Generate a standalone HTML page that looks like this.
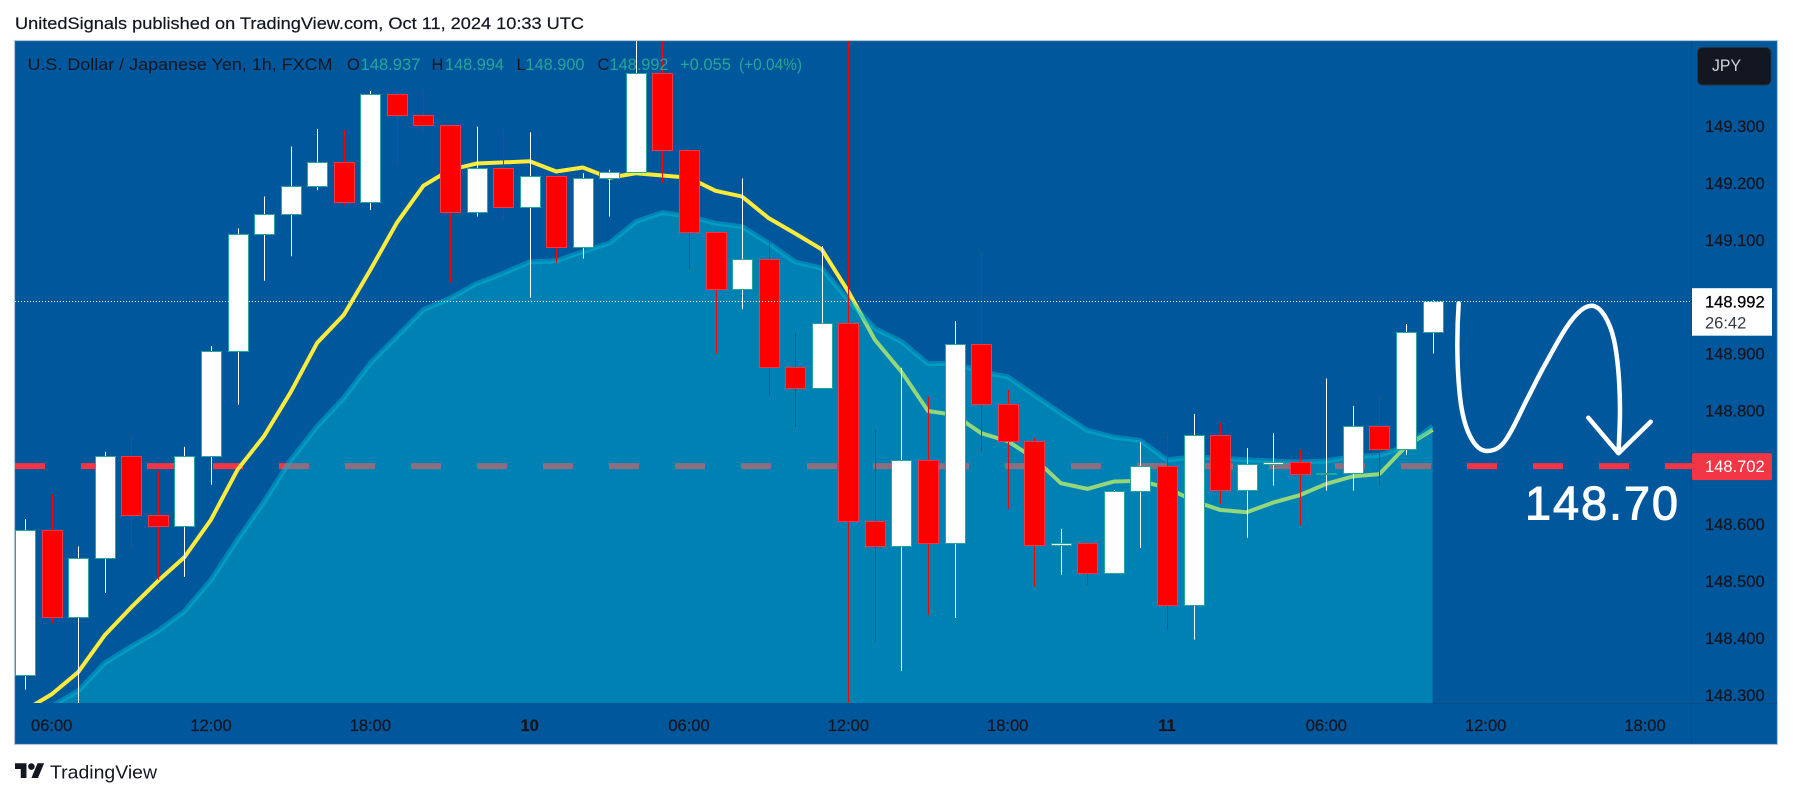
<!DOCTYPE html>
<html lang="en">
<head>
<meta charset="utf-8">
<title>USD/JPY 1h candlestick chart</title>
<style>
html,body{margin:0;padding:0;background:#fff;width:1793px;height:798px;overflow:hidden}
svg{display:block;font-family:"Liberation Sans",Arial,sans-serif}
</style>
</head>
<body>
<svg id="chart" width="1793" height="798" viewBox="0 0 1793 798">
  <defs>
    <clipPath id="plot-clip"><rect x="15" y="41" width="1677" height="662"/></clipPath>
  </defs>
  <text x="15" y="29" font-size="16.5" fill="#131722" stroke="#131722" stroke-width=".2" textLength="569" lengthAdjust="spacingAndGlyphs">UnitedSignals published on TradingView.com, Oct 11, 2024 10:33 UTC</text>
  <rect x="14.5" y="40.5" width="1763" height="704" fill="#01579b" stroke="#b4c6da" stroke-width="1.2"/>
  <line x1="1691.5" y1="41" x2="1691.5" y2="744" stroke="#0a4f8c"/>
  <line x1="1433" y1="703.5" x2="1777" y2="703.5" stroke="#0a4f8c"/>
  <g id="plot" clip-path="url(#plot-clip)"></g>
  <g id="price-axis"></g>
  <g id="time-axis"></g>

  <g font-size="16.5">
    <text x="27.5" y="70" fill="#131722" textLength="305" lengthAdjust="spacingAndGlyphs">U.S. Dollar / Japanese Yen, 1h, FXCM</text>
    <text x="347" y="70" fill="#131722">O</text>
    <text x="360.5" y="70" fill="#26a69a" textLength="60" lengthAdjust="spacingAndGlyphs">148.937</text>
    <text x="431.5" y="70" fill="#131722">H</text>
    <text x="445" y="70" fill="#26a69a" textLength="59" lengthAdjust="spacingAndGlyphs">148.994</text>
    <text x="516.5" y="70" fill="#131722">L</text>
    <text x="525.5" y="70" fill="#26a69a" textLength="59" lengthAdjust="spacingAndGlyphs">148.900</text>
    <text x="597.5" y="70" fill="#131722">C</text>
    <text x="609.5" y="70" fill="#26a69a" textLength="59" lengthAdjust="spacingAndGlyphs">148.992</text>
    <text x="680" y="70" fill="#26a69a" textLength="51" lengthAdjust="spacingAndGlyphs">+0.055</text>
    <text x="739" y="70" fill="#26a69a" textLength="63" lengthAdjust="spacingAndGlyphs">(+0.04%)</text>
  </g>

  <g>
    <rect x="1697.5" y="47.5" width="73.5" height="37.5" rx="5" fill="#131722" stroke="#2a3340"/>
    <text x="1712" y="71" font-size="16.5" fill="#d1d4dc" textLength="29" lengthAdjust="spacingAndGlyphs">JPY</text>
  </g>

  <g>
    <path d="M1458.7 303.3 C1456.5 335 1457 370 1460 396.7 C1462 415 1466 428 1470 436 C1475 446 1481 451 1487 451 C1494 451 1500 448 1505 441 C1513 430 1520 413 1526.7 400 C1533 388 1540 373 1546.7 361.7 C1553 350 1560 337 1566.7 327 C1574 316 1583 305.7 1591.7 305.7 C1601 305.7 1610 322 1614 340 C1619 363 1620 395 1620 410 C1620 425 1619 440 1618.5 453" fill="none" stroke="#fff" stroke-width="4.5" stroke-linecap="round"/>
    <path d="M1588.3 417.7 L1618.5 453.3 L1650.7 421.7" fill="none" stroke="#fff" stroke-width="4.5" stroke-linecap="round" stroke-linejoin="round"/>
    <text x="1525" y="519.5" font-size="47" fill="#fff" stroke="#fff" stroke-width="1" textLength="153" lengthAdjust="spacing">148.70</text>
  </g>

  <g>
    <g transform="translate(15 760) scale(.82)" fill="#131722">
      <path d="M14 22H7V11H0V4h14v18zM28 22h-8l7.5-18h8L28 22z"/>
      <circle cx="20" cy="8" r="4"/>
    </g>
    <text x="50" y="778.5" font-size="18.5" fill="#131722" textLength="107" lengthAdjust="spacingAndGlyphs">TradingView</text>
  </g>
</svg>

<script>
// Chart data, one entry per hourly bar, starting at the 05:00 bar on the 9th
const opens = [148.335,148.590,148.437,148.540,148.719,148.616,148.596,148.719,148.904,149.111,149.145,149.194,149.236,149.166,149.357,149.319,149.301,149.148,149.227,149.158,149.212,149.088,149.209,149.219,149.394,149.257,149.113,149.013,149.067,148.877,148.839,148.953,148.605,148.561,148.712,148.566,148.916,148.811,148.747,148.563,148.566,148.515,148.658,148.702,148.458,148.756,148.660,148.706,148.709,148.689,148.690,148.772,148.733,148.937];
const highs = [148.609,148.652,148.561,148.727,148.753,148.693,148.736,148.913,149.120,149.176,149.264,149.295,149.293,149.362,149.360,149.356,149.302,149.299,149.294,149.289,149.213,149.217,149.223,149.460,149.460,149.258,149.114,149.208,149.098,148.936,149.089,149.460,148.766,148.875,148.824,148.957,149.079,148.836,148.752,148.592,148.567,148.660,148.744,148.758,148.794,148.778,148.734,148.760,148.731,148.856,148.808,148.824,148.952,148.994];
const lows = [148.309,148.426,148.282,148.479,148.560,148.502,148.507,148.669,148.810,149.028,149.071,149.187,149.161,149.152,149.231,149.292,149.025,149.141,149.137,148.998,149.059,149.067,149.141,149.218,149.200,149.047,148.900,148.978,148.825,148.771,148.838,148.280,148.393,148.342,148.440,148.435,148.728,148.627,148.490,148.511,148.492,148.513,148.558,148.413,148.397,148.636,148.576,148.668,148.598,148.659,148.659,148.667,148.722,148.900];
const closes = [148.590,148.437,148.540,148.719,148.616,148.596,148.719,148.904,149.111,149.145,149.194,149.236,149.166,149.357,149.319,149.301,149.148,149.227,149.158,149.212,149.088,149.209,149.219,149.394,149.257,149.113,149.013,149.067,148.877,148.839,148.953,148.605,148.561,148.712,148.566,148.916,148.811,148.747,148.563,148.566,148.515,148.658,148.702,148.458,148.756,148.660,148.706,148.709,148.689,148.690,148.772,148.733,148.937,148.992];
const fastAverage = [148.273,148.301,148.340,148.405,148.454,148.500,148.542,148.608,148.696,148.755,148.832,148.919,148.968,149.047,149.130,149.195,149.223,149.234,149.236,149.238,149.220,149.227,149.209,149.217,149.213,149.209,149.186,149.176,149.138,149.111,149.083,149.009,148.924,148.868,148.799,148.792,148.760,148.746,148.716,148.672,148.662,148.675,148.676,148.664,148.641,148.625,148.621,148.638,148.651,148.671,148.684,148.688,148.737,148.766];
const slowAverage = [148.250,148.280,148.307,148.356,148.385,148.412,148.447,148.502,148.573,148.640,148.713,148.772,148.822,148.883,148.930,148.977,148.997,149.023,149.041,149.061,149.063,149.079,149.094,149.132,149.148,149.141,149.129,149.123,149.094,149.061,149.050,148.994,148.944,148.921,148.882,148.883,148.868,148.859,148.827,148.795,148.765,148.753,148.747,148.713,148.718,148.716,148.713,148.711,148.709,148.711,148.719,148.721,148.737,148.772];
const priceTicks = [149.3,149.2,149.1,148.9,148.8,148.6,148.5,148.4,148.3];
const timeLabels = ['06:00','12:00','18:00','10','06:00','12:00','18:00','11','06:00','12:00','18:00'];
const timeLabelBars = [1,7,13,19,25,31,37,43,49,55,61];
const lastPrice = 148.992;
const targetPrice = 148.702;
const countdown = '26:42';

const NS = 'http://www.w3.org/2000/svg';
const priceToY = p => 126 + (149.3 - p) * 568.8;
const barToX = i => 25.15 + 26.555 * i;
const plot = document.getElementById('plot');
const priceAxis = document.getElementById('price-axis');
const timeAxis = document.getElementById('time-axis');

function make(tag, parent) {
  const el = document.createElementNS(NS, tag);
  parent.appendChild(el);
  return el;
}
function linePath(values) {
  return values.map((v, i) => (i ? 'L' : 'M') + barToX(i).toFixed(2) + ' ' + priceToY(v).toFixed(2)).join(' ');
}

// Target level, dashed
const targetLine = make('line', plot);


targetLine.setAttribute('x1', 15);
targetLine.setAttribute('x2', 1692);
targetLine.setAttribute('y1', priceToY(targetPrice));
targetLine.setAttribute('y2', priceToY(targetPrice));
targetLine.setAttribute('stroke', '#f23645');
targetLine.setAttribute('stroke-width', 6);
targetLine.setAttribute('stroke-dasharray', '30 36');

// Fast moving average
const fastLine = make('path', plot);


fastLine.setAttribute('d', linePath(fastAverage));
fastLine.setAttribute('fill', 'none');
fastLine.setAttribute('stroke', '#ffeb3b');
fastLine.setAttribute('stroke-width', 4);
fastLine.setAttribute('stroke-linejoin', 'round');

// Slow moving average area
const lastBar = slowAverage.length - 1;
const slowArea = make('path', plot);


slowArea.setAttribute('d', linePath(slowAverage) + ' L' + barToX(lastBar).toFixed(2) + ' 703 L' + barToX(0).toFixed(2) + ' 703 Z');
slowArea.setAttribute('fill', '#00bcd4');
slowArea.setAttribute('fill-opacity', 0.42);

const slowLine = make('path', plot);


slowLine.setAttribute('d', linePath(slowAverage));
slowLine.setAttribute('fill', 'none');
slowLine.setAttribute('stroke', '#00bcd4');
slowLine.setAttribute('stroke-opacity', 0.45);
slowLine.setAttribute('stroke-width', 5);
slowLine.setAttribute('stroke-linejoin', 'round');

// Candles
closes.forEach((close, i) => {
  const up = close >= opens[i];
  const cx = barToX(i);
  const group = make('g', plot);
  
  

  const wick = make('line', group);
  
  
  const wx = Math.round(cx) + 0.5;
  wick.setAttribute('x1', wx);
  wick.setAttribute('x2', wx);
  wick.setAttribute('y1', priceToY(highs[i]));
  wick.setAttribute('y2', priceToY(lows[i]));
  wick.setAttribute('stroke', up ? '#ffffff' : '#ff0000');
  wick.setAttribute('stroke-width', 1);

  const yTop = Math.round(priceToY(Math.max(opens[i], close))) + 0.5;
  const yBottom = Math.round(priceToY(Math.min(opens[i], close))) + 0.5;
  const body = make('rect', group);
  
  
  body.setAttribute('x', Math.round(cx - 10) + 0.5);
  body.setAttribute('width', 20);
  body.setAttribute('y', yTop);
  body.setAttribute('height', Math.max(1, yBottom - yTop));
  body.setAttribute('fill', up ? '#ffffff' : '#ff0000');
  body.setAttribute('stroke', up ? '#26a69a' : '#f23645');
  body.setAttribute('stroke-width', 1);
});

// Last price, dotted, drawn above the candles
const lastLine = make('line', plot);


lastLine.setAttribute('x1', 15);
lastLine.setAttribute('x2', 1692);
lastLine.setAttribute('y1', Math.round(priceToY(lastPrice)) + 0.5);
lastLine.setAttribute('y2', Math.round(priceToY(lastPrice)) + 0.5);
lastLine.setAttribute('stroke', '#fff');
lastLine.setAttribute('stroke-width', 1);
lastLine.setAttribute('stroke-dasharray', '1 2');

// Price axis
priceTicks.forEach(p => {
  const t = make('text', priceAxis);
  
  
  t.setAttribute('x', 1705);
  t.setAttribute('y', priceToY(p) + 6);
  t.setAttribute('font-size', 16.5);
  t.setAttribute('fill', '#131722');
  t.setAttribute('stroke', '#131722');
  t.setAttribute('stroke-width', 0.25);
  t.textContent = p.toFixed(3);
});

// Last price label
const lastBox = make('rect', priceAxis);


lastBox.setAttribute('x', 1692);
lastBox.setAttribute('y', priceToY(lastPrice) - 13);
lastBox.setAttribute('width', 80);
lastBox.setAttribute('height', 47.5);
lastBox.setAttribute('fill', '#ffffff');

const lastText = make('text', priceAxis);


lastText.setAttribute('x', 1705);
lastText.setAttribute('y', priceToY(lastPrice) + 6.5);
lastText.setAttribute('font-size', 16.5);
lastText.setAttribute('fill', '#000000');
lastText.setAttribute('stroke', '#000000');
lastText.setAttribute('stroke-width', 0.25);
lastText.textContent = lastPrice.toFixed(3);

const countText = make('text', priceAxis);


countText.setAttribute('x', 1705);
countText.setAttribute('y', priceToY(lastPrice) + 27.5);
countText.setAttribute('font-size', 16.5);
countText.setAttribute('fill', '#333a45');
countText.textContent = countdown;

// Target price label
const targetBox = make('rect', priceAxis);


targetBox.setAttribute('x', 1692);
targetBox.setAttribute('y', priceToY(targetPrice) - 13);
targetBox.setAttribute('width', 80);
targetBox.setAttribute('height', 27);
targetBox.setAttribute('rx', 2);
targetBox.setAttribute('fill', '#f23645');

const targetText = make('text', priceAxis);


targetText.setAttribute('x', 1705);
targetText.setAttribute('y', priceToY(targetPrice) + 6);
targetText.setAttribute('font-size', 16.5);
targetText.setAttribute('fill', '#ffffff');
targetText.textContent = targetPrice.toFixed(3);

// Time axis
timeLabels.forEach((label, i) => {
  const t = make('text', timeAxis);
  
  
  t.setAttribute('x', barToX(timeLabelBars[i]));
  t.setAttribute('y', 731);
  t.setAttribute('font-size', 16.5);
  t.setAttribute('text-anchor', 'middle');
  t.setAttribute('fill', '#131722');
  t.setAttribute('stroke', '#131722');
  t.setAttribute('stroke-width', 0.25);
  if (label.length < 3) t.setAttribute('font-weight', 'bold');
  t.textContent = label;
});
</script>
</body>
</html>
